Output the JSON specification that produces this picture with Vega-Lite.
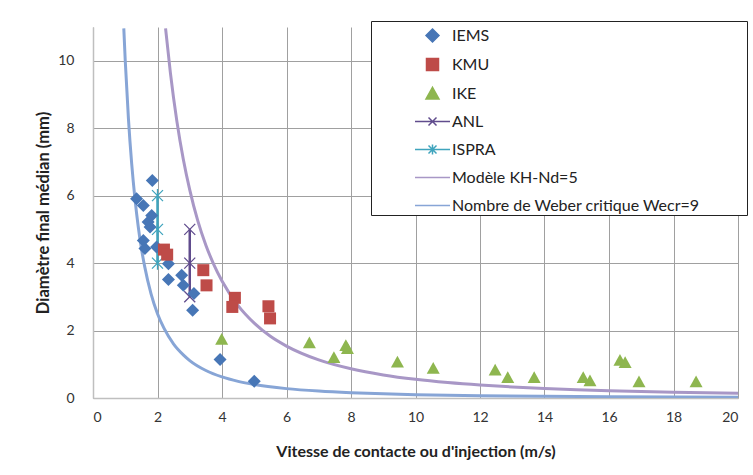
{
  "$schema": "https://vega.github.io/schema/vega-lite/v6.json",
  "autosize": "none",
  "width": 645,
  "height": 371,
  "padding": {"left": 93, "top": 27, "right": 15, "bottom": 77},
  "background": "white",
  "config": {
    "view": {"stroke": null},
    "font": "Lato",
    "axis": {"labelFont": "Lato", "titleFont": "Lato", "labelColor": "#333", "titleColor": "#222", "gridColor": "#a0a0a0", "gridWidth": 1, "domainColor": "#bfbfbf", "domainWidth": 1.5, "ticks": false},
    "legend": {"title": null, "orient": "none", "legendX": 278, "legendY": -6, "padding": 1, "symbolSize": 625, "symbolOffset": 47, "labelOffset": 6, "labelLimit": 400, "labelFont": "Lato", "labelFontSize": 16, "labelColor": "#222", "rowPadding": 6, "strokeColor": "#222", "fillColor": "white"}
  },
  "datasets": {
    "pts": [
      {"v": 1.35, "d": 5.91, "series": "IEMS"},
      {"v": 1.56, "d": 5.71, "series": "IEMS"},
      {"v": 1.84, "d": 6.45, "series": "IEMS"},
      {"v": 1.82, "d": 5.41, "series": "IEMS"},
      {"v": 1.71, "d": 5.22, "series": "IEMS"},
      {"v": 1.77, "d": 5.07, "series": "IEMS"},
      {"v": 1.56, "d": 4.67, "series": "IEMS"},
      {"v": 1.61, "d": 4.43, "series": "IEMS"},
      {"v": 1.97, "d": 4.48, "series": "IEMS"},
      {"v": 2.34, "d": 3.98, "series": "IEMS"},
      {"v": 2.34, "d": 3.51, "series": "IEMS"},
      {"v": 2.75, "d": 3.64, "series": "IEMS"},
      {"v": 2.8, "d": 3.34, "series": "IEMS"},
      {"v": 3.13, "d": 3.1, "series": "IEMS"},
      {"v": 3.09, "d": 2.6, "series": "IEMS"},
      {"v": 3.94, "d": 1.14, "series": "IEMS"},
      {"v": 5.0, "d": 0.5, "series": "IEMS"},
      {"v": 2.2, "d": 4.4, "series": "KMU"},
      {"v": 2.3, "d": 4.25, "series": "KMU"},
      {"v": 3.42, "d": 3.79, "series": "KMU"},
      {"v": 3.52, "d": 3.34, "series": "KMU"},
      {"v": 4.4, "d": 2.97, "series": "KMU"},
      {"v": 4.32, "d": 2.7, "series": "KMU"},
      {"v": 5.44, "d": 2.72, "series": "KMU"},
      {"v": 5.49, "d": 2.36, "series": "KMU"},
      {"v": 3.99, "d": 1.74, "series": "IKE"},
      {"v": 6.71, "d": 1.64, "series": "IKE"},
      {"v": 7.47, "d": 1.2, "series": "IKE"},
      {"v": 7.84, "d": 1.56, "series": "IKE"},
      {"v": 7.89, "d": 1.47, "series": "IKE"},
      {"v": 9.44, "d": 1.07, "series": "IKE"},
      {"v": 10.55, "d": 0.88, "series": "IKE"},
      {"v": 12.47, "d": 0.83, "series": "IKE"},
      {"v": 12.86, "d": 0.61, "series": "IKE"},
      {"v": 13.68, "d": 0.61, "series": "IKE"},
      {"v": 15.2, "d": 0.61, "series": "IKE"},
      {"v": 15.41, "d": 0.51, "series": "IKE"},
      {"v": 16.34, "d": 1.12, "series": "IKE"},
      {"v": 16.5, "d": 1.05, "series": "IKE"},
      {"v": 16.93, "d": 0.48, "series": "IKE"},
      {"v": 18.7, "d": 0.48, "series": "IKE"}
    ],
    "errs": [
      {"v": 3.0, "d": 3.0, "series": "ANL"},
      {"v": 3.0, "d": 4.0, "series": "ANL"},
      {"v": 3.0, "d": 5.0, "series": "ANL"},
      {"v": 2.0, "d": 4.0, "series": "ISPRA"},
      {"v": 2.0, "d": 5.0, "series": "ISPRA"},
      {"v": 2.0, "d": 6.0, "series": "ISPRA"}
    ],
    "curves": [
      {"v": 0.955, "d": 10.96, "series": "Nombre de Weber critique Wecr=9"},
      {"v": 1.0, "d": 10.0, "series": "Nombre de Weber critique Wecr=9"},
      {"v": 1.1, "d": 8.26, "series": "Nombre de Weber critique Wecr=9"},
      {"v": 1.2, "d": 6.94, "series": "Nombre de Weber critique Wecr=9"},
      {"v": 1.3, "d": 5.92, "series": "Nombre de Weber critique Wecr=9"},
      {"v": 1.4, "d": 5.1, "series": "Nombre de Weber critique Wecr=9"},
      {"v": 1.5, "d": 4.44, "series": "Nombre de Weber critique Wecr=9"},
      {"v": 1.6, "d": 3.91, "series": "Nombre de Weber critique Wecr=9"},
      {"v": 1.8, "d": 3.09, "series": "Nombre de Weber critique Wecr=9"},
      {"v": 2.0, "d": 2.5, "series": "Nombre de Weber critique Wecr=9"},
      {"v": 2.2, "d": 2.07, "series": "Nombre de Weber critique Wecr=9"},
      {"v": 2.5, "d": 1.6, "series": "Nombre de Weber critique Wecr=9"},
      {"v": 2.8, "d": 1.28, "series": "Nombre de Weber critique Wecr=9"},
      {"v": 3.0, "d": 1.11, "series": "Nombre de Weber critique Wecr=9"},
      {"v": 3.5, "d": 0.816, "series": "Nombre de Weber critique Wecr=9"},
      {"v": 4.0, "d": 0.625, "series": "Nombre de Weber critique Wecr=9"},
      {"v": 4.5, "d": 0.494, "series": "Nombre de Weber critique Wecr=9"},
      {"v": 5.0, "d": 0.4, "series": "Nombre de Weber critique Wecr=9"},
      {"v": 6.0, "d": 0.278, "series": "Nombre de Weber critique Wecr=9"},
      {"v": 7.0, "d": 0.204, "series": "Nombre de Weber critique Wecr=9"},
      {"v": 8.0, "d": 0.156, "series": "Nombre de Weber critique Wecr=9"},
      {"v": 9.0, "d": 0.123, "series": "Nombre de Weber critique Wecr=9"},
      {"v": 10.0, "d": 0.1, "series": "Nombre de Weber critique Wecr=9"},
      {"v": 12.0, "d": 0.069, "series": "Nombre de Weber critique Wecr=9"},
      {"v": 14.0, "d": 0.051, "series": "Nombre de Weber critique Wecr=9"},
      {"v": 16.0, "d": 0.039, "series": "Nombre de Weber critique Wecr=9"},
      {"v": 18.0, "d": 0.031, "series": "Nombre de Weber critique Wecr=9"},
      {"v": 20.0, "d": 0.025, "series": "Nombre de Weber critique Wecr=9"},
      {"v": 2.25, "d": 10.96, "series": "Modèle KH-Nd=5"},
      {"v": 2.4, "d": 9.64, "series": "Modèle KH-Nd=5"},
      {"v": 2.6, "d": 8.21, "series": "Modèle KH-Nd=5"},
      {"v": 2.8, "d": 7.08, "series": "Modèle KH-Nd=5"},
      {"v": 3.0, "d": 6.17, "series": "Modèle KH-Nd=5"},
      {"v": 3.25, "d": 5.25, "series": "Modèle KH-Nd=5"},
      {"v": 3.5, "d": 4.53, "series": "Modèle KH-Nd=5"},
      {"v": 3.75, "d": 3.95, "series": "Modèle KH-Nd=5"},
      {"v": 4.0, "d": 3.47, "series": "Modèle KH-Nd=5"},
      {"v": 4.5, "d": 2.74, "series": "Modèle KH-Nd=5"},
      {"v": 5.0, "d": 2.22, "series": "Modèle KH-Nd=5"},
      {"v": 5.5, "d": 1.83, "series": "Modèle KH-Nd=5"},
      {"v": 6.0, "d": 1.54, "series": "Modèle KH-Nd=5"},
      {"v": 7.0, "d": 1.13, "series": "Modèle KH-Nd=5"},
      {"v": 8.0, "d": 0.867, "series": "Modèle KH-Nd=5"},
      {"v": 9.0, "d": 0.685, "series": "Modèle KH-Nd=5"},
      {"v": 10.0, "d": 0.555, "series": "Modèle KH-Nd=5"},
      {"v": 11.0, "d": 0.459, "series": "Modèle KH-Nd=5"},
      {"v": 12.0, "d": 0.385, "series": "Modèle KH-Nd=5"},
      {"v": 13.0, "d": 0.328, "series": "Modèle KH-Nd=5"},
      {"v": 14.0, "d": 0.283, "series": "Modèle KH-Nd=5"},
      {"v": 15.0, "d": 0.247, "series": "Modèle KH-Nd=5"},
      {"v": 16.0, "d": 0.217, "series": "Modèle KH-Nd=5"},
      {"v": 17.0, "d": 0.192, "series": "Modèle KH-Nd=5"},
      {"v": 18.0, "d": 0.171, "series": "Modèle KH-Nd=5"},
      {"v": 19.0, "d": 0.154, "series": "Modèle KH-Nd=5"},
      {"v": 20.0, "d": 0.139, "series": "Modèle KH-Nd=5"}
    ]
  },
  "encoding": {
    "x": {"field": "v", "type": "quantitative", "scale": {"domain": [0, 20], "nice": false},
      "axis": {"values": [0, 2, 4, 6, 8, 10, 12, 14, 16, 18, 20], "labelFontSize": 14, "labelPadding": 12, "title": "Vitesse de contacte ou d'injection (m/s)", "titleFontSize": 16, "titleFontWeight": "bold", "titlePadding": 19}},
    "y": {"field": "d", "type": "quantitative", "scale": {"domain": [0, 11], "nice": false},
      "axis": {"values": [0, 2, 4, 6, 8, 10], "labelFontSize": 14, "labelPadding": 19, "title": "Diamètre final  médian (mm)", "titleFontSize": 16.5, "titleFontWeight": "bold", "titlePadding": 6}}
  },
  "layer": [
    {
      "data": {"name": "curves"},
      "mark": {"type": "line", "strokeWidth": 3, "interpolate": "monotone", "clip": true},
      "encoding": {
        "detail": {"field": "series"},
        "color": {"field": "series", "type": "nominal",
          "scale": {"domain": ["IEMS", "KMU", "IKE", "ANL", "ISPRA", "Modèle KH-Nd=5", "Nombre de Weber critique Wecr=9"],
                    "range": ["#4776b6", "#be4b48", "#8eb64f", "#604c8d", "#3fa4bd", "#a897c6", "#87a5d6"]}}
      }
    },
    {
      "data": {"name": "errs"},
      "mark": {"type": "line", "strokeWidth": 2.5},
      "encoding": {
        "detail": {"field": "series"},
        "color": {"field": "series", "type": "nominal"}
      }
    },
    {
      "data": {"name": "errs"},
      "transform": [{"filter": "datum.series == 'ANL'"}],
      "mark": {"type": "point", "shape": "M-1,-1L1,1M-1,1L1,-1", "size": 121, "filled": false, "stroke": "#604c8d", "strokeWidth": 1.3, "opacity": 1},
      "encoding": {}
    },
    {
      "data": {"name": "errs"},
      "transform": [{"filter": "datum.series == 'ISPRA'"}],
      "mark": {"type": "point", "shape": "M-1,-1L1,1M-1,1L1,-1M0,-1.2L0,1.2", "size": 121, "filled": false, "stroke": "#3fa4bd", "strokeWidth": 1.3, "opacity": 1},
      "encoding": {}
    },
    {
      "data": {"name": "pts"},
      "mark": {"type": "point", "filled": true, "size": 625, "opacity": 1, "strokeWidth": 0},
      "encoding": {
        "color": {"field": "series", "type": "nominal",
          "legend": {
            "encode": {"symbols": {"update": {"fill": {"scale": "color", "field": "value"}, "stroke": {"scale": "color", "field": "value"}, "opacity": {"value": 1}, "shape": {"scale": "shape", "field": "value"}, "strokeWidth": {"signal": "indexof(['ANL','ISPRA','Modèle KH-Nd=5','Nombre de Weber critique Wecr=9'], datum.value) >= 0 ? 3 : 0"}}}}}},
        "shape": {"field": "series", "type": "nominal",
          "scale": {"domain": ["IEMS", "KMU", "IKE", "ANL", "ISPRA", "Modèle KH-Nd=5", "Nombre de Weber critique Wecr=9"],
                    "range": ["M0,-0.52L0.52,0L0,0.52L-0.52,0Z", "M-0.48,-0.48H0.48V0.48H-0.48Z", "M0,-0.5L0.52,0.44L-0.52,0.44Z", "M-1.4,0H1.4M-0.32,-0.32L0.32,0.32M-0.32,0.32L0.32,-0.32", "M-1.4,0H1.4M-0.32,-0.32L0.32,0.32M-0.32,0.32L0.32,-0.32M0,-0.4L0,0.4", "M-1.4,0H1.4", "M-1.4,0H1.4M24.8,0L24.8,0"]},
          "legend": {
            "encode": {"symbols": {"update": {"fill": {"scale": "color", "field": "value"}, "stroke": {"scale": "color", "field": "value"}, "opacity": {"value": 1}, "shape": {"scale": "shape", "field": "value"}, "strokeWidth": {"signal": "indexof(['ANL','ISPRA','Modèle KH-Nd=5','Nombre de Weber critique Wecr=9'], datum.value) >= 0 ? 3 : 0"}}}}}}
      }
    }
  ]
}
